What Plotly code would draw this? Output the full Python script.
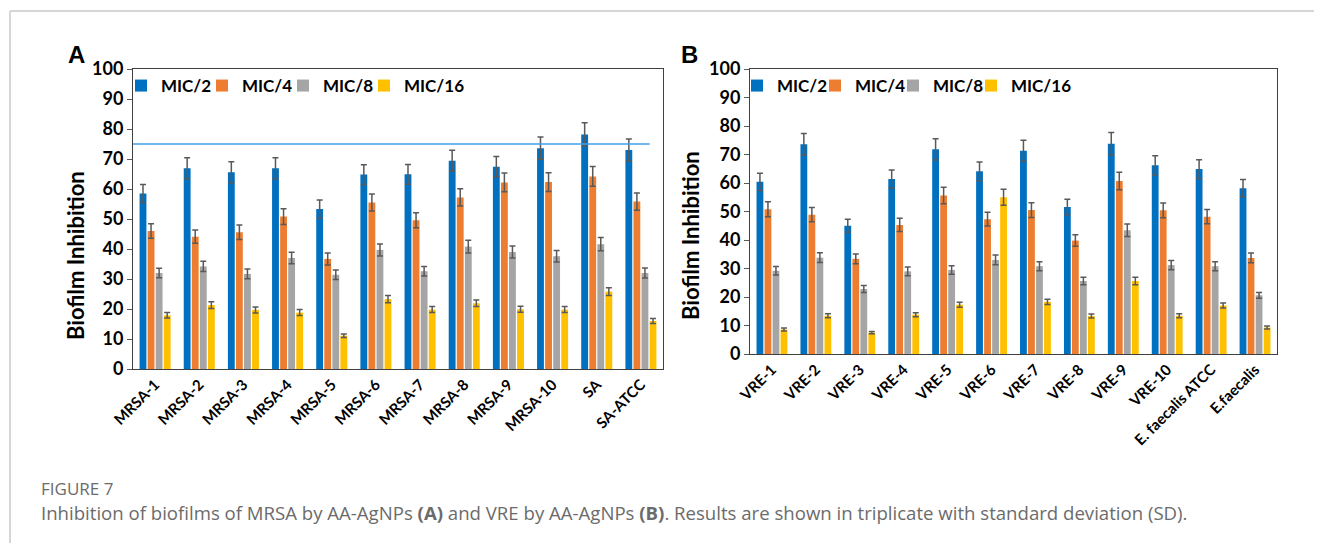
import plotly.graph_objects as go

series = ["MIC/2", "MIC/4", "MIC/8", "MIC/16"]
colors = ["#0070C0", "#ED7D31", "#A5A5A5", "#FFC000"]

cats_a = ["MRSA-1", "MRSA-2", "MRSA-3", "MRSA-4", "MRSA-5", "MRSA-6", "MRSA-7",
          "MRSA-8", "MRSA-9", "MRSA-10", "SA", "SA-ATCC"]
a_mic2 = [58.5, 66.9, 65.6, 66.9, 53.3, 64.8, 64.9, 69.4, 67.4, 73.6, 78.2, 73.0]
a_mic4 = [46.0, 44.1, 45.6, 50.8, 36.7, 55.5, 49.6, 57.2, 62.2, 62.3, 64.2, 55.8]
a_mic8 = [32.0, 34.2, 31.7, 37.0, 31.4, 39.7, 32.6, 40.8, 39.0, 37.6, 41.6, 32.0]
a_mic16 = [17.9, 21.3, 19.7, 18.8, 11.1, 23.3, 19.8, 21.9, 19.9, 19.8, 25.8, 16.0]
a_err2 = [3.0, 3.5, 3.5, 3.5, 3.0, 3.3, 3.3, 3.5, 3.4, 3.7, 3.9, 3.7]
a_err4 = [2.4, 2.2, 2.4, 2.6, 2.0, 2.8, 2.5, 2.9, 3.1, 3.1, 3.3, 2.9]
a_err8 = [1.6, 1.7, 1.6, 1.9, 1.6, 2.0, 1.6, 2.1, 2.0, 1.9, 2.2, 1.7]
a_err16 = [0.9, 1.1, 1.0, 1.0, 0.6, 1.2, 1.0, 1.1, 1.0, 1.0, 1.3, 0.8]

cats_b = ["VRE-1", "VRE-2", "VRE-3", "VRE-4", "VRE-5", "VRE-6", "VRE-7", "VRE-8",
          "VRE-9", "VRE-10", "E. faecalis ATCC", "E.faecalis"]
b_mic2 = [60.4, 73.6, 45.0, 61.4, 71.8, 64.1, 71.3, 51.6, 73.8, 66.2, 64.9, 58.2]
b_mic4 = [50.8, 48.9, 33.4, 45.3, 55.6, 47.3, 50.5, 39.8, 60.7, 50.4, 48.2, 33.7]
b_mic8 = [29.2, 33.8, 22.8, 29.0, 29.5, 33.0, 30.8, 25.6, 43.4, 31.2, 30.8, 20.6]
b_mic16 = [8.6, 13.4, 7.5, 13.8, 17.3, 55.0, 18.3, 13.3, 25.6, 13.4, 17.0, 9.3]
b_err2 = [3.0, 3.8, 2.3, 3.2, 3.7, 3.3, 3.7, 2.7, 3.9, 3.4, 3.3, 3.0]
b_err4 = [2.6, 2.5, 1.7, 2.3, 2.9, 2.4, 2.6, 2.0, 3.1, 2.6, 2.5, 1.7]
b_err8 = [1.5, 1.7, 1.2, 1.5, 1.5, 1.7, 1.6, 1.3, 2.2, 1.6, 1.6, 1.0]
b_err16 = [0.5, 0.7, 0.4, 0.7, 0.9, 2.8, 0.9, 0.7, 1.3, 0.7, 0.9, 0.5]

threshold_a = 75
y_title = "Biofilm Inhibition"

caption_title = "FIGURE 7"
caption_text = ("Inhibition of biofilms of MRSA by AA-AgNPs <b>(A)</b> and VRE by AA-AgNPs <b>(B)</b>. "
                "Results are shown in triplicate with standard deviation (SD).")

OFF = 8  # page body margin of the written html
W, H = 1322 - OFF, 543 - OFF
FONT = "Lato"

fig = go.Figure()

a_vals = [a_mic2, a_mic4, a_mic8, a_mic16]
a_errs = [a_err2, a_err4, a_err8, a_err16]
b_vals = [b_mic2, b_mic4, b_mic8, b_mic16]
b_errs = [b_err2, b_err4, b_err8, b_err16]

for i, name in enumerate(series):
    fig.add_trace(go.Bar(
        x=cats_a, y=a_vals[i], name=name, marker_color=colors[i], marker_line_width=0,
        error_y=dict(type="data", array=a_errs[i], color="#595959", thickness=1.5, width=3),
        xaxis="x", yaxis="y", offsetgroup=str(i), legend="legend"))
for i, name in enumerate(series):
    fig.add_trace(go.Bar(
        x=cats_b, y=b_vals[i], name=name, marker_color=colors[i], marker_line_width=0,
        error_y=dict(type="data", array=b_errs[i], color="#595959", thickness=1.5, width=3),
        xaxis="x2", yaxis="y2", offsetgroup=str(i), legend="legend2"))

# invisible spacer entries so the last legend label is not clipped
for ax, ay, lg in (("x", "y", "legend"), ("x2", "y2", "legend2")):
    fig.add_trace(go.Scatter(x=[None], y=[None], mode="markers", name=" ",
                             marker=dict(color="rgba(0,0,0,0)", size=1),
                             xaxis=ax, yaxis=ay, legend=lg, hoverinfo="skip"))

def px_x(p):
    return (p - OFF) / W

def px_y(p):
    return 1 - (p - OFF) / H

yaxis_common = dict(range=[0, 100], dtick=10, showgrid=False, zeroline=False,
                    ticks="outside", ticklen=5, tickcolor="#595959",
                    showline=True, linecolor="#404040", linewidth=1, mirror=True,
                    tickfont=dict(family=FONT, size=18, color="#000000", weight="bold"),
                    automargin=False, fixedrange=True)
xaxis_common = dict(showgrid=False, zeroline=False, ticks="", tickangle=-45,
                    showline=True, linecolor="#404040", linewidth=1, mirror=True,
                    tickfont=dict(family=FONT, size=15, color="#000000", weight="bold"),
                    automargin=False, fixedrange=True)

legend_font = dict(family=FONT, size=17, color="#000000", weight="bold")

fig.update_layout(
    width=W, height=H,
    margin=dict(l=0, r=0, t=0, b=0),
    paper_bgcolor="white", plot_bgcolor="white",
    barmode="group", bargap=0.27, bargroupgap=0.15,
    showlegend=True,
    xaxis=dict(domain=[px_x(133), px_x(663)], anchor="y", **xaxis_common),
    yaxis=dict(domain=[px_y(369), px_y(69)], anchor="x", **yaxis_common),
    xaxis2=dict(domain=[px_x(750), px_x(1277)], anchor="y2", **xaxis_common),
    yaxis2=dict(domain=[px_y(354), px_y(69)], anchor="x2", **yaxis_common),
    legend=dict(orientation="h", x=px_x(121), y=px_y(68), xanchor="left", yanchor="top",
                bgcolor="rgba(0,0,0,0)", entrywidth=36, entrywidthmode="pixels",
                font=legend_font, itemwidth=30, tracegroupgap=0),
    legend2=dict(orientation="h", x=px_x(737), y=px_y(68), xanchor="left", yanchor="top",
                 bgcolor="rgba(0,0,0,0)", entrywidth=33, entrywidthmode="pixels",
                 font=legend_font, itemwidth=30, tracegroupgap=0),
)

# threshold line in panel A
fig.add_shape(type="line", xref="x domain", yref="y", x0=0, x1=0.975,
              y0=threshold_a, y1=threshold_a, line=dict(color="#3FA0EA", width=1.5))

# page frame
fig.add_shape(type="line", xref="paper", yref="paper", x0=px_x(10), x1=1,
              y0=px_y(11), y1=px_y(11), line=dict(color="#D6D6D6", width=2))
fig.add_shape(type="line", xref="paper", yref="paper", x0=px_x(10), x1=px_x(10),
              y0=px_y(11), y1=0, line=dict(color="#D6D6D6", width=2))

# y-axis titles
for xc, yc in ((75, 256), (690, 236)):
    fig.add_annotation(text="<b>" + y_title + "</b>", xref="paper", yref="paper",
                       x=px_x(xc), y=px_y(yc), xanchor="center", yanchor="middle",
                       textangle=-90, showarrow=False,
                       font=dict(family=FONT, size=22, color="#000000"))

# panel letters
fig.add_annotation(text="<b>A</b>", xref="paper", yref="paper", x=px_x(76), y=px_y(55),
                   xanchor="center", yanchor="middle", showarrow=False,
                   font=dict(family="Liberation Sans", size=24, color="#000000"))
fig.add_annotation(text="<b>B</b>", xref="paper", yref="paper", x=px_x(689), y=px_y(55),
                   xanchor="center", yanchor="middle", showarrow=False,
                   font=dict(family="Liberation Sans", size=24, color="#000000"))

# caption
fig.add_annotation(text=caption_title, xref="paper", yref="paper", x=px_x(39), y=px_y(488),
                   xanchor="left", yanchor="middle", showarrow=False,
                   font=dict(family="Open Sans", size=17, color="#6B6B6B"))
fig.add_annotation(text=caption_text, xref="paper", yref="paper", x=px_x(39), y=px_y(512),
                   xanchor="left", yanchor="middle", showarrow=False,
                   font=dict(family="Open Sans", size=18.6, color="#6B6B6B"))

fig.write_html("out.html")
